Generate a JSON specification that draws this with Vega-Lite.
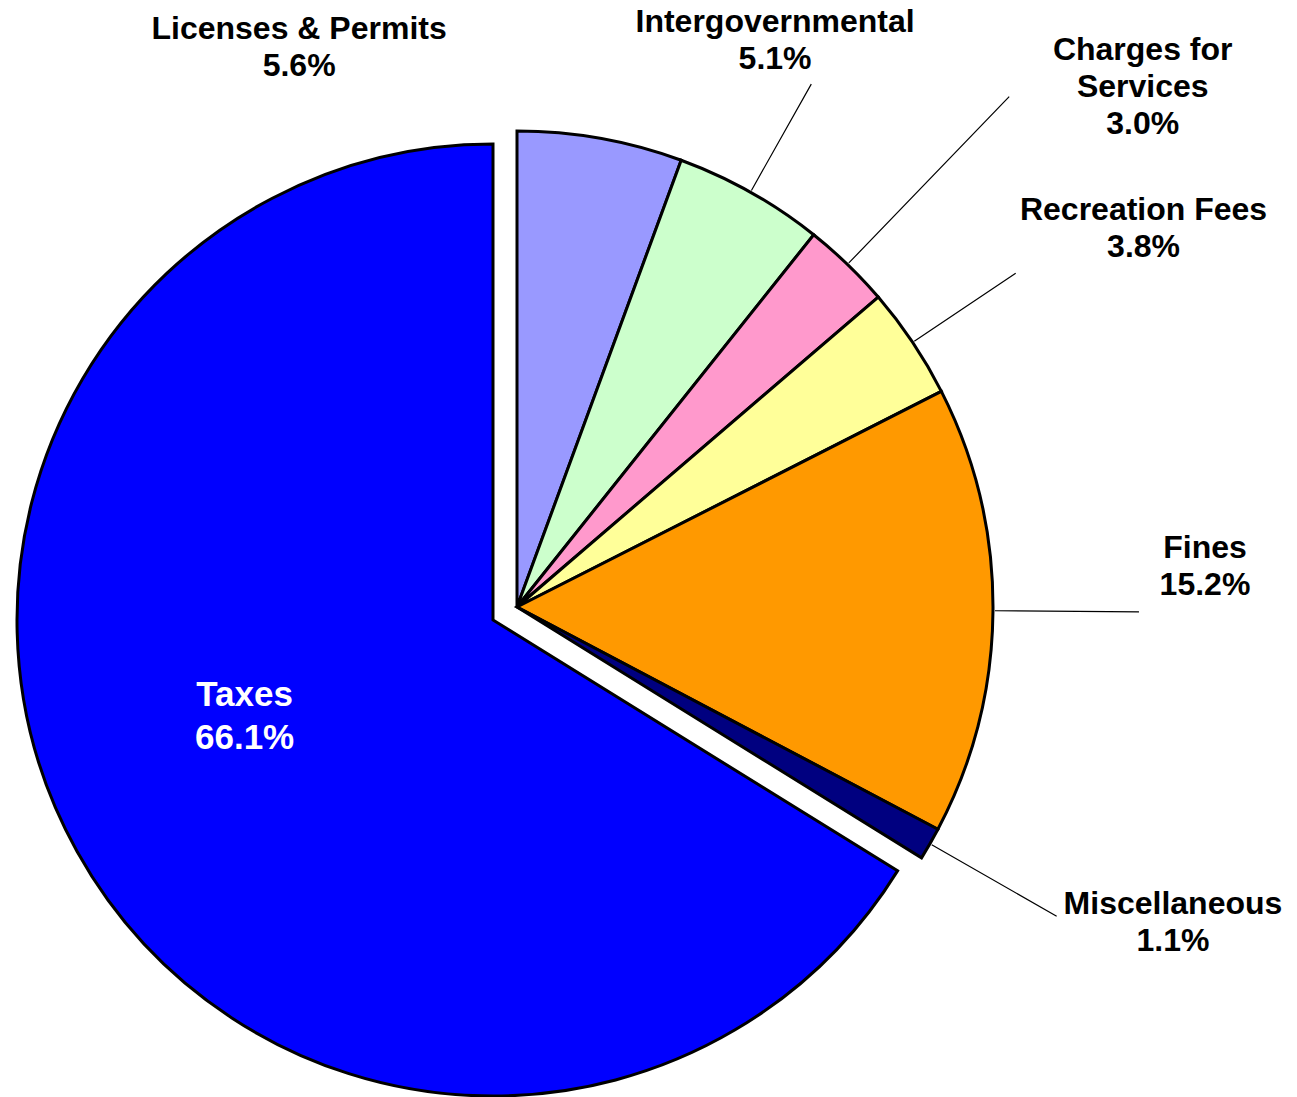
{
  "$schema": "https://vega.github.io/schema/vega-lite/v6.json",
  "width": 1297,
  "height": 1097,
  "autosize": {"type": "none"},
  "padding": 0,
  "background": "white",
  "config": {
    "view": {"stroke": null},
    "text": {"font": "Liberation Sans", "fontWeight": "bold", "fontSize": 32, "lineHeight": 37, "lineBreak": "\n", "align": "center", "baseline": "middle", "color": "#000000"}
  },
  "data": {
    "values": [
      {"cat": "Licenses & Permits", "value": 5.6, "order": 1, "label": "Licenses & Permits\n5.6%"},
      {"cat": "Intergovernmental", "value": 5.1, "order": 2, "label": "Intergovernmental\n5.1%"},
      {"cat": "Charges for Services", "value": 3.0, "order": 3, "label": "Charges for\nServices\n3.0%"},
      {"cat": "Recreation Fees", "value": 3.8, "order": 4, "label": "Recreation Fees\n3.8%"},
      {"cat": "Fines", "value": 15.2, "order": 5, "label": "Fines\n15.2%"},
      {"cat": "Miscellaneous", "value": 1.1, "order": 6, "label": "Miscellaneous\n1.1%"},
      {"cat": "Taxes", "value": 66.1, "order": 7, "label": "Taxes\n66.1%"}
    ]
  },
  "transform": [
    {"window": [{"op": "sum", "field": "value", "as": "cum"}], "sort": [{"field": "order"}], "frame": [null, 0]},
    {"calculate": "datum.cum - datum.value / 2", "as": "mid"}
  ],
  "layer": [
    {
      "mark": {"type": "arc", "x": 517, "y": 607, "radius": 476, "stroke": "#000000", "strokeWidth": 3, "strokeJoin": "miter"},
      "encoding": {
        "theta": {"field": "value", "type": "quantitative", "stack": true, "scale": {"domain": [0, 99.9]}},
        "order": {"field": "order", "type": "quantitative"},
        "color": {
          "field": "cat", "type": "nominal", "legend": null,
          "scale": {
            "domain": ["Licenses & Permits", "Intergovernmental", "Charges for Services", "Recreation Fees", "Fines", "Miscellaneous", "Taxes"],
            "range": ["#9999FF", "#CCFFCC", "#FF99CC", "#FFFF99", "#FF9900", "#000080", "#0000FF"]
          }
        },
        "opacity": {"condition": {"test": "datum.cat === 'Taxes'", "value": 0}, "value": 1}
      }
    },
    {
      "mark": {"type": "arc", "x": 493, "y": 620, "radius": 476, "stroke": "#000000", "strokeWidth": 3, "strokeJoin": "miter"},
      "encoding": {
        "theta": {"field": "value", "type": "quantitative", "stack": true, "scale": {"domain": [0, 99.9]}},
        "order": {"field": "order", "type": "quantitative"},
        "color": {"field": "cat", "type": "nominal", "legend": null},
        "opacity": {"condition": {"test": "datum.cat === 'Taxes'", "value": 1}, "value": 0}
      }
    },
    {
      "transform": [{"filter": {"field": "cat", "oneOf": ["Intergovernmental", "Recreation Fees"]}}],
      "mark": {"type": "arc", "x": 517, "y": 607, "radius": 600, "radius2": 478, "filled": false, "stroke": "#000000", "strokeWidth": 1.2},
      "encoding": {
        "theta": {"field": "mid", "type": "quantitative", "stack": null, "scale": {"domain": [0, 99.9]}},
        "theta2": {"field": "mid"}
      }
    },
    {
      "transform": [{"filter": {"field": "cat", "oneOf": ["Fines", "Miscellaneous"]}}],
      "mark": {"type": "arc", "x": 517, "y": 607, "radius": 622, "radius2": 478, "filled": false, "stroke": "#000000", "strokeWidth": 1.2},
      "encoding": {
        "theta": {"field": "mid", "type": "quantitative", "stack": null, "scale": {"domain": [0, 99.9]}},
        "theta2": {"field": "mid"}
      }
    },
    {
      "transform": [{"filter": "datum.cat === 'Charges for Services'"}],
      "mark": {"type": "arc", "x": 517, "y": 607, "radius": 709, "radius2": 478, "filled": false, "stroke": "#000000", "strokeWidth": 1.2},
      "encoding": {
        "theta": {"field": "mid", "type": "quantitative", "stack": null, "scale": {"domain": [0, 99.9]}},
        "theta2": {"field": "mid"}
      }
    },
    {
      "transform": [{"filter": "datum.cat === 'Licenses & Permits'"}],
      "mark": {"type": "text", "x": 517, "y": 607, "radius": 560, "dx": -316, "dy": -27},
      "encoding": {
        "theta": {"field": "mid", "type": "quantitative", "stack": null, "scale": {"domain": [0, 99.9]}},
        "text": {"field": "label"}
      }
    },
    {
      "transform": [{"filter": "datum.cat === 'Intergovernmental'"}],
      "mark": {"type": "text", "x": 517, "y": 607, "radius": 620, "dx": -46, "dy": -45},
      "encoding": {
        "theta": {"field": "mid", "type": "quantitative", "stack": null, "scale": {"domain": [0, 99.9]}},
        "text": {"field": "label"}
      }
    },
    {
      "transform": [{"filter": "datum.cat === 'Charges for Services'"}],
      "mark": {"type": "text", "x": 517, "y": 607, "radius": 740, "dx": 112, "dy": -24},
      "encoding": {
        "theta": {"field": "mid", "type": "quantitative", "stack": null, "scale": {"domain": [0, 99.9]}},
        "text": {"field": "label"}
      }
    },
    {
      "transform": [{"filter": "datum.cat === 'Recreation Fees'"}],
      "mark": {"type": "text", "x": 517, "y": 607, "radius": 660, "dx": 78, "dy": -30},
      "encoding": {
        "theta": {"field": "mid", "type": "quantitative", "stack": null, "scale": {"domain": [0, 99.9]}},
        "text": {"field": "label"}
      }
    },
    {
      "transform": [{"filter": "datum.cat === 'Fines'"}],
      "mark": {"type": "text", "x": 517, "y": 607, "radius": 688, "dx": 0, "dy": -64},
      "encoding": {
        "theta": {"field": "mid", "type": "quantitative", "stack": null, "scale": {"domain": [0, 99.9]}},
        "text": {"field": "label"}
      }
    },
    {
      "transform": [{"filter": "datum.cat === 'Miscellaneous'"}],
      "mark": {"type": "text", "x": 517, "y": 607, "radius": 680, "dx": 66, "dy": -41},
      "encoding": {
        "theta": {"field": "mid", "type": "quantitative", "stack": null, "scale": {"domain": [0, 99.9]}},
        "text": {"field": "label"}
      }
    },
    {
      "transform": [{"filter": "datum.cat === 'Taxes'"}],
      "mark": {"type": "text", "x": 517, "y": 607, "radius": 290, "dx": -19, "dy": -53, "fontSize": 35, "lineHeight": 43, "color": "#FFFFFF"},
      "encoding": {
        "theta": {"field": "mid", "type": "quantitative", "stack": null, "scale": {"domain": [0, 99.9]}},
        "text": {"field": "label"}
      }
    }
  ]
}
